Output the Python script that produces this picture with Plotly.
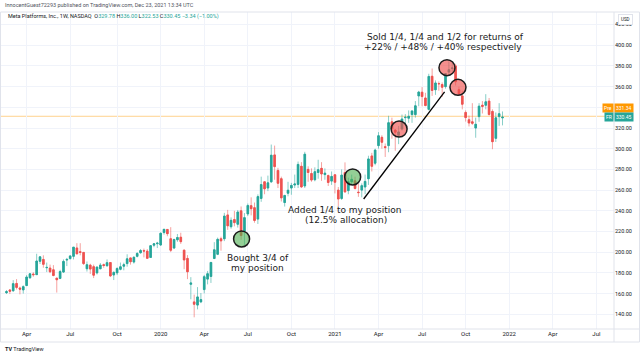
import numpy as np
import pandas as pd
import plotly.graph_objects as go

# ---------------- data (weekly META / FB candles) ----------------
opens = [
    160.9, 163.5, 162.7, 169.8, 165.4, 163.6, 167.8, 175.3, 178.9, 178.3, 191.2, 193.0, 185.0,
    184.7, 183.0, 175.0, 174.7, 180.8, 192.4, 193.8, 196.0, 204.1, 200.5, 199.8, 184.0, 187.5,
    186.0, 180.0, 184.0, 187.9, 186.9, 190.0, 178.0, 180.0, 183.5, 186.5, 189.0, 194.5, 190.5,
    196.0, 199.5, 201.5, 201.0, 195.0, 206.8, 208.2,
    207.0, 219.0, 222.0, 213.0, 204.0, 212.0, 214.5, 202.0, 194.0, 169.0, 152.0, 148.9, 152.0,
    163.9, 174.0, 176.6, 194.0, 198.0, 213.0, 213.0, 236.0, 224.6, 231.5, 227.0, 240.0, 220.6,
    237.0, 245.0, 243.0, 232.0, 252.0, 268.0, 262.0, 268.0, 294.0, 279.0, 271.0, 248.0, 257.0,
    262.0, 264.9, 265.5, 283.0, 264.0, 280.0, 276.0, 270.0, 277.0, 281.0, 275.0, 274.0, 268.7,
    274.8, 260.0, 252.0, 277.0, 259.5, 268.0, 269.0, 258.0, 260.0, 263.0, 271.0, 293.0, 286.0,
    303.0, 311.0, 302.0, 303.0, 326.0, 318.0, 313.0, 319.0, 330.0, 329.5, 333.0, 333.0, 351.0,
    354.6, 349.0, 338.0, 370.0, 357.0, 363.0, 362.0, 360.0, 374.0, 377.5, 380.0, 357.0, 351.0,
    335.0, 328.0, 326.0, 320.0, 331.0, 342.0, 342.0, 346.0, 336.0, 310.0, 331.0, 329.78,
]
highs = [
    163.4, 164.4, 173.0, 174.0, 166.7, 168.0, 177.9, 179.7, 180.6, 198.5, 196.2, 197.0, 190.0,
    188.0, 187.5, 175.0, 183.0, 193.0, 194.5, 197.0, 205.0, 208.7, 208.7, 200.0, 191.0, 188.8,
    188.0, 186.0, 189.5, 189.0, 193.0, 190.5, 181.5, 185.5, 190.0, 189.9, 198.0, 194.8, 196.0,
    200.0, 203.1, 203.5, 203.0, 206.8, 208.9, 210.0,
    219.0, 222.6, 222.0, 224.2, 213.0, 217.6, 218.8, 202.5, 197.2, 175.9, 159.0, 166.3, 160.6,
    178.0, 181.9, 190.6, 209.7, 214.1, 215.0, 238.0, 240.9, 233.6, 240.0, 240.8, 244.2, 237.8,
    247.0, 253.0, 248.0, 255.9, 273.0, 268.3, 274.0, 304.0, 303.0, 281.5, 273.0, 255.5, 268.0,
    267.0, 275.0, 287.6, 287.0, 297.0, 283.0, 281.0, 282.0, 289.3, 287.0, 281.0, 275.0, 278.0,
    275.0, 263.0, 280.0, 286.8, 272.0, 275.0, 273.0, 266.0, 266.5, 275.0, 293.2, 296.0, 300.0,
    316.0, 313.0, 305.0, 331.8, 330.0, 319.0, 322.0, 333.0, 333.4, 337.0, 337.0, 346.0, 355.9,
    359.5, 354.0, 372.4, 377.5, 366.0, 365.0, 364.0, 373.0, 384.3, 382.8, 382.0, 360.0, 356.0,
    337.0, 332.0, 344.0, 330.0, 344.0, 346.0, 352.7, 349.0, 338.0, 335.0, 344.0, 336.00,
]
lows = [
    159.6, 159.6, 161.8, 164.0, 159.3, 160.0, 167.2, 174.2, 176.3, 178.2, 188.6, 185.0, 180.8,
    179.8, 176.7, 161.0, 174.0, 180.0, 186.6, 193.0, 193.0, 198.0, 197.0, 187.7, 181.3, 179.0,
    175.0, 178.5, 183.5, 185.0, 186.0, 176.0, 173.1, 177.9, 182.5, 182.5, 186.0, 188.0, 189.0,
    195.0, 198.5, 195.0, 193.5, 195.0, 204.8, 204.0,
    206.0, 217.0, 215.4, 200.1, 203.0, 210.0, 208.0, 183.6, 174.0, 154.5, 137.1, 144.8, 150.8,
    160.2, 168.9, 170.3, 193.3, 197.2, 201.5, 210.7, 221.6, 222.7, 225.0, 223.8, 212.0, 207.1,
    235.0, 235.6, 228.5, 227.3, 248.7, 256.0, 259.0, 267.0, 270.0, 262.0, 249.0, 244.1, 254.0,
    255.5, 262.0, 262.0, 262.0, 262.0, 268.0, 268.0, 268.5, 271.0, 269.0, 270.0, 264.0, 265.0,
    256.8, 244.6, 250.5, 257.3, 256.0, 265.0, 260.5, 253.5, 253.0, 256.0, 265.0, 278.0, 284.0,
    300.0, 300.0, 292.0, 296.6, 309.6, 298.0, 304.4, 317.5, 322.5, 325.0, 325.0, 330.0, 341.0,
    341.0, 341.0, 337.0, 351.0, 352.0, 356.0, 350.0, 358.0, 371.0, 374.0, 361.0, 351.0, 338.0,
    326.2, 321.5, 323.0, 310.6, 326.0, 334.0, 338.0, 332.0, 299.5, 306.5, 322.0, 322.53,
]
closes = [
    161.9, 162.3, 169.6, 166.0, 164.3, 166.7, 176.0, 179.1, 178.3, 191.5, 195.5, 188.3, 185.3,
    181.1, 177.5, 173.4, 181.3, 191.1, 193.0, 196.4, 204.9, 198.4, 199.8, 189.0, 187.9, 183.7,
    177.8, 185.7, 187.5, 187.2, 189.9, 177.1, 180.5, 184.2, 185.9, 187.9, 193.6, 190.8, 195.1,
    198.8, 201.6, 201.1, 194.1, 206.3, 208.1, 208.7,
    218.3, 222.1, 217.9, 201.9, 212.3, 214.2, 210.2, 192.5, 181.1, 170.3, 149.7, 156.8, 154.2,
    176.3, 179.2, 190.1, 202.3, 212.4, 210.9, 234.9, 225.5, 230.8, 228.6, 238.8, 216.1, 233.4,
    245.1, 242.0, 230.7, 253.7, 265.3, 261.2, 267.0, 293.7, 282.7, 266.6, 252.5, 254.8, 259.9,
    264.5, 265.9, 284.8, 263.1, 294.7, 277.0, 269.7, 277.8, 279.7, 275.6, 276.4, 267.4, 273.2,
    267.6, 251.4, 274.5, 258.3, 268.1, 270.4, 261.6, 257.6, 264.3, 268.4, 290.1, 283.0, 298.7,
    312.5, 306.2, 301.1, 325.1, 319.1, 315.9, 316.2, 328.7, 330.4, 331.3, 336.5, 341.4, 354.7,
    350.4, 341.7, 369.8, 356.3, 363.5, 362.7, 359.4, 372.6, 376.3, 378.0, 364.7, 353.0, 343.0,
    330.1, 324.8, 324.6, 323.6, 341.1, 340.9, 345.3, 333.1, 306.8, 329.8, 333.8, 330.45,
]
assert len(opens) == len(highs) == len(lows) == len(closes)
weeks = pd.date_range("2019-02-18", periods=len(closes), freq="7D")

tick_dates = ["2019-04-01", "2019-07-01", "2019-10-07", "2020-01-06", "2020-04-06", "2020-07-06",
              "2020-10-05", "2021-01-04", "2021-04-05", "2021-07-05", "2021-10-04", "2022-01-03",
              "2022-04-04", "2022-07-04"]
tick_labels = ["Apr", "Jul", "Oct", "2020", "Apr", "Jul", "Oct", "2021", "Apr", "Jul", "Oct",
               "2022", "Apr", "Jul"]
price_ticks = [140, 160, 180, 200, 220, 240, 260, 280, 300, 320, 340, 360, 380, 400, 420]

buy_dates = ["2020-06-23", "2021-02-10"]
buy_prices = [212.8, 272.7]
sell_dates = ["2021-05-18", "2021-08-26", "2021-09-18"]
sell_prices = [319.0, 378.3, 359.3]
arrow_dates = ["2021-03-05", "2021-08-21"]
arrow_prices = [251.4, 354.8]
pre_price, last_price = 331.34, 330.45

# ---------------- layout helpers (pixel box of the plot area) ----------------
W, H = 640, 355
PL, PR, PT, PB = 0, 614, 12, 329


def px(x):
    return (x - PL) / (PR - PL)


def py(y):
    return (PB - y) / (PB - PT)


UP, DN = "#26a69a", "#ef5350"
UP_WICK, DN_WICK = "rgba(38,166,154,0.55)", "rgba(239,83,80,0.55)"
UI_FONT = "Roboto"
TXT = "#131722"

o = np.array(opens)
c = np.array(closes)

fig = go.Figure()
# wicks (lighter), then solid bodies on top
fig.add_trace(go.Candlestick(
    x=weeks, open=opens, high=highs, low=lows, close=closes,
    increasing=dict(line=dict(color=UP_WICK, width=1), fillcolor=UP),
    decreasing=dict(line=dict(color=DN_WICK, width=1), fillcolor=DN),
    whiskerwidth=0, showlegend=False, hoverinfo="skip"))
fig.add_trace(go.Candlestick(
    x=weeks, open=opens, high=np.maximum(o, c), low=np.minimum(o, c), close=closes,
    increasing=dict(line=dict(color=UP, width=0.6), fillcolor=UP),
    decreasing=dict(line=dict(color=DN, width=0.6), fillcolor=DN),
    whiskerwidth=0, showlegend=False, hoverinfo="skip"))

fig.add_trace(go.Scatter(
    x=buy_dates, y=buy_prices, mode="markers", showlegend=False, hoverinfo="skip",
    marker=dict(size=16, color="rgba(76,175,80,0.6)", line=dict(color="#1b1b1b", width=1.5))))
fig.add_trace(go.Scatter(
    x=sell_dates, y=sell_prices, mode="markers", showlegend=False, hoverinfo="skip",
    marker=dict(size=16, color="rgba(239,83,80,0.65)", line=dict(color="#1b1b1b", width=1.5))))

shapes = [
    # pre-market price line
    dict(type="line", xref="paper", yref="y", x0=0, x1=1, y0=pre_price, y1=pre_price,
         line=dict(color="rgba(255,152,0,0.45)", width=1), layer="below"),
    # arrow line
    dict(type="line", xref="x", yref="y", x0=arrow_dates[0], y0=arrow_prices[0],
         x1=arrow_dates[1], y1=arrow_prices[1], line=dict(color="#000000", width=1.3)),
    # frame
    dict(type="rect", xref="paper", yref="paper", x0=px(0.5), x1=px(639.5), y0=py(342), y1=py(12),
         line=dict(color="#e0e3eb", width=1)),
    dict(type="line", xref="paper", yref="paper", x0=px(PR), x1=px(PR), y0=py(342), y1=py(12),
         line=dict(color="#e0e3eb", width=1)),
    dict(type="line", xref="paper", yref="paper", x0=px(0), x1=px(640), y0=py(PB), y1=py(PB),
         line=dict(color="#e0e3eb", width=1)),
]

ann = []


def text(x, y, s, size, color=TXT, family=UI_FONT, xanchor="left", **kw):
    ann.append(dict(x=px(x), y=py(y), xref="paper", yref="paper", text=s, showarrow=False,
                    xanchor=xanchor, yanchor="middle", font=dict(size=size, color=color, family=family),
                    **kw))


text(3, 5.5, "InnocentGuest72293 published on TradingView.com, Dec 23, 2021 13:34 UTC", 5.5, "#50535e")
g = UP
legend = ("Meta Platforms, Inc., 1W, NASDAQ&nbsp;&nbsp;"
          f"O<span style='color:{g}'>329.78</span> H<span style='color:{g}'>336.00</span> "
          f"L<span style='color:{g}'>322.53</span> C<span style='color:{g}'>330.45</span> "
          f"<span style='color:{g}'>−3.34 (−1.00%)</span>")
text(6, 16.7, legend, 5.5, TXT)
text(3, 348.5, "<b>TV</b> TradingView", 5.5, TXT)
text(625.5, 20, "USD", 4.5, TXT, xanchor="center", bgcolor="white", bordercolor="#e0e3eb",
     borderwidth=1, borderpad=2)

# price labels on the axis
text(613.5, 108, "Pre", 5, "white", xanchor="right", bgcolor="#ff9800", borderpad=1)
text(614.5, 108, f"{pre_price:.2f}", 5, "white", xanchor="left", bgcolor="#ff9800", borderpad=1)
text(613.5, 117, "FR", 5, "white", xanchor="right", bgcolor=UP, borderpad=1)
text(614.5, 117, f"{last_price:.2f}", 5, "white", xanchor="left", bgcolor=UP, borderpad=1)

NOTE = "DejaVu Sans"
text(445, 37.3, "Sold 1/4, 1/4 and 1/2 for returns of", 9, "#1a1a1a", NOTE, "center")
text(443, 47.3, "+22% / +48% / +40% respectively", 9, "#1a1a1a", NOTE, "center")
text(344, 210, "Added 1/4 to my position", 9, "#1a1a1a", NOTE, "center")
text(345.5, 220, "(12.5% allocation)", 9, "#1a1a1a", NOTE, "center")
text(258, 258, "Bought 3/4 of", 9, "#1a1a1a", NOTE, "center")
text(257, 268, "my position", 9, "#1a1a1a", NOTE, "center")

fig.update_layout(
    width=W, height=H, margin=dict(l=PL, r=W - PR, t=PT, b=H - PB, pad=0),
    paper_bgcolor="white", plot_bgcolor="white", showlegend=False,
    shapes=shapes, annotations=ann,
    xaxis=dict(type="date", range=["2019-02-04 10:00", "2022-08-09 21:00"],
               rangeslider=dict(visible=False), tickvals=tick_dates, ticktext=tick_labels,
               showgrid=True, gridcolor="#f0f3fa", gridwidth=1, ticks="", zeroline=False,
               showline=False, tickfont=dict(family=UI_FONT, size=6, color=TXT), fixedrange=True,
               automargin=False),
    yaxis=dict(side="right", range=[125.80, 432.08], tickvals=price_ticks,
               ticktext=[f"{v:.2f}" for v in price_ticks], showgrid=True, gridcolor="#f0f3fa",
               gridwidth=1, ticks="", zeroline=False, showline=False,
               tickfont=dict(family=UI_FONT, size=5.5, color=TXT), fixedrange=True,
               automargin=False),
)

fig.write_html("out.html", config=dict(displayModeBar=False),
               post_script="document.body.style.margin='0px';document.body.style.overflow='hidden';")
